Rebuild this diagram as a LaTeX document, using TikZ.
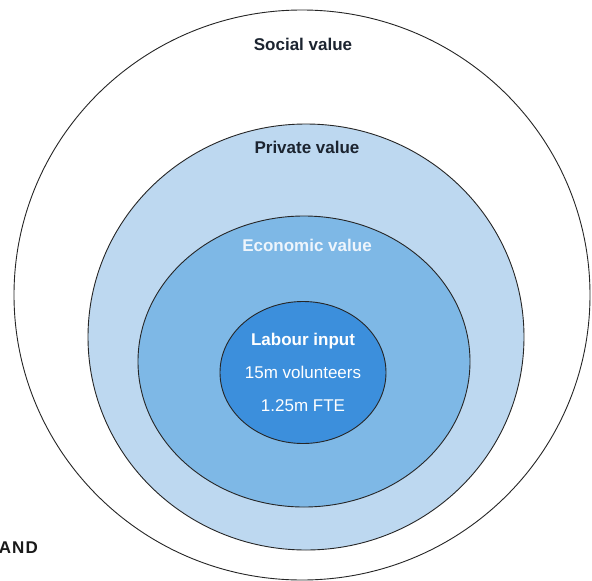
\documentclass[tikz,border=0pt]{standalone}
\usepackage{fontspec}
\setmainfont{Liberation Sans}
\usetikzlibrary{calc}
\definecolor{privblue}{HTML}{BDD8F0}
\definecolor{econblue}{HTML}{7EB8E6}
\definecolor{workblue}{HTML}{3C8FDC}
\definecolor{darktext}{HTML}{1C2430}
\definecolor{palefont}{HTML}{EEF5FC}

\begin{document}
\begin{tikzpicture}[x=1pt,y=-1pt,
    ring/.style={draw=black!85,line width=0.9pt},
    lab/.style={anchor=base,inner sep=0pt,font=\fontsize{17}{20}\selectfont}]
			          %frame of the picture, 1 unit = 1 pixel
			          \useasboundingbox (0,0) rectangle (592,581);
			          %the four rings, outer first
			          \draw[ring,fill=white] (302,295) ellipse [x radius=288,y radius=285];
			          \draw[ring,fill=privblue] (306,337) ellipse [x radius=218,y radius=213];
			          \draw[ring,fill=econblue] (304,361.5) ellipse [x radius=166,y radius=145.5];
			          \draw[ring,fill=workblue] (303,372.5) ellipse [x radius=83,y radius=71];
			          %labels
			          \node[lab,text=darktext] (social) at (303,50) {\bfseries Social value};
			          \node[lab,text=darktext] (private) at (307,153) {\bfseries Private value};
			          \node[lab,text=palefont] (economic) at (307,251) {\bfseries Economic value};
			          \node[lab,text=white] (labour) at (303,345.5) {\bfseries Labour input};
			          \node[lab,text=white] (volunteers) at (303,378) {15m volunteers};
			          \node[lab,text=white] (fte) at (303,411.5) {1.25m FTE};
			          %cut-off text at the left border
			          \node[lab,anchor=base east,text=black!90,font=\fontsize{17}{20}\selectfont\bfseries] (cut) at (38,553) {A\kern1pt N\kern1pt D};
				  \end{tikzpicture}
\end{document}
